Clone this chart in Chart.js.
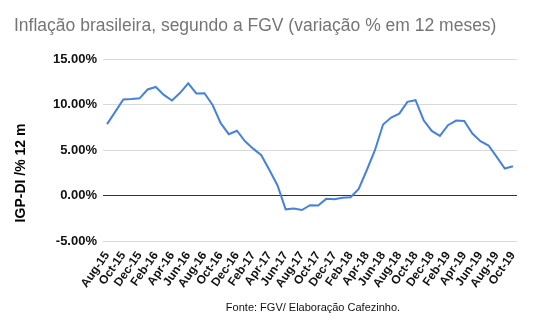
<!DOCTYPE html>
<html>
<head>
<meta charset="utf-8">
<script src="https://cdn.jsdelivr.net/npm/chart.js@4"></script>
<style>
  body { margin: 0; background: #fff; }
  .chart-container { position: relative; width: 534px; height: 327px; }
</style>
</head>
<body>
<div class="chart-container"><canvas id="igpChart" width="534" height="327"></canvas></div>
<script>
// IGP-DI, 12-month change, Aug-15 .. Oct-19
const months = [
    'Aug-15', 'Sep-15', 'Oct-15', 'Nov-15', 'Dec-15',
    'Jan-16', 'Feb-16', 'Mar-16', 'Apr-16', 'May-16', 'Jun-16', 'Jul-16', 'Aug-16', 'Sep-16', 'Oct-16', 'Nov-16', 'Dec-16',
    'Jan-17', 'Feb-17', 'Mar-17', 'Apr-17', 'May-17', 'Jun-17', 'Jul-17', 'Aug-17', 'Sep-17', 'Oct-17', 'Nov-17', 'Dec-17',
    'Jan-18', 'Feb-18', 'Mar-18', 'Apr-18', 'May-18', 'Jun-18', 'Jul-18', 'Aug-18', 'Sep-18', 'Oct-18', 'Nov-18', 'Dec-18',
    'Jan-19', 'Feb-19', 'Mar-19', 'Apr-19', 'May-19', 'Jun-19', 'Jul-19', 'Aug-19', 'Sep-19', 'Oct-19'
];
const igpDi = [
    7.84, 9.19, 10.55, 10.60, 10.68,
    11.65, 11.93, 11.05, 10.44, 11.28, 12.32, 11.21, 11.24, 9.94, 7.95, 6.74, 7.12,
    5.95, 5.15, 4.43, 2.80, 1.10, -1.52, -1.43, -1.60, -1.07, -1.10, -0.37, -0.42,
    -0.26, -0.19, 0.73, 2.80, 4.98, 7.80, 8.57, 9.00, 10.29, 10.47, 8.27, 7.10,
    6.55, 7.73, 8.24, 8.20, 6.81, 5.97, 5.49, 4.24, 2.96, 3.22
];
const yTicks = [-5, 0, 5, 10, 15];

const titleText = 'Inflação brasileira, segundo a FGV (variação % em 12 meses)';
const yTitleText = 'IGP-DI /% 12 m';
const sourceText = 'Fonte: FGV/ Elaboração Cafezinho.';

const FONT = '"Liberation Sans", Arial, sans-serif';

// title, rotated axis title and source note
const textPlugin = {
    id: 'chartText',
    afterDraw(chart) {
        const { ctx } = chart;
        ctx.save();
        ctx.fillStyle = '#757575';
        ctx.font = `17.5px ${FONT}`;
        ctx.textAlign = 'left';
        ctx.textBaseline = 'alphabetic';
        ctx.fillText(titleText, 14, 31);

        ctx.fillStyle = '#000';
        ctx.font = `bold 14px ${FONT}`;
        ctx.translate(21, 173);
        ctx.rotate(-Math.PI / 2);
        ctx.textAlign = 'center';
        ctx.textBaseline = 'middle';
        ctx.fillText(yTitleText, 0, 0);
        ctx.restore();

        ctx.save();
        ctx.fillStyle = '#111';
        ctx.font = `11px ${FONT}`;
        ctx.textAlign = 'center';
        ctx.textBaseline = 'alphabetic';
        ctx.fillText(sourceText, 313, 311);
        ctx.restore();
    }
};

document.addEventListener('DOMContentLoaded', () => {
    new Chart(document.getElementById('igpChart'), {
        type: 'line',
        data: {
            labels: months,
            datasets: [{
                data: igpDi,
                borderColor: '#4682dc',
                borderWidth: 2,
                pointRadius: 0,
                tension: 0,
                fill: false
            }]
        },
        options: {
            responsive: false,
            animation: false,
            layout: { padding: { top: 59, right: 17, left: 0, bottom: 0 } },
            scales: {
                x: {
                    offset: true,
                    grid: { display: false, drawTicks: false },
                    border: { display: false },
                    ticks: {
                        autoSkip: false,
                        minRotation: 55,
                        maxRotation: 55,
                        padding: 8,
                        color: '#111',
                        font: { family: FONT, size: 12, weight: 'bold' },
                        callback: (v, i) => (i % 2 === 0 ? months[i] : '')
                    },
                    afterFit: s => { s.height = 86; }
                },
                y: {
                    min: -5,
                    max: 15,
                    afterBuildTicks: s => { s.ticks = yTicks.map(v => ({ value: v })); },
                    grid: {
                        drawTicks: false,
                        color: ctx => (ctx.tick && ctx.tick.value === 0 ? '#333' : '#d9d9d9'),
                        lineWidth: 1
                    },
                    border: { display: false },
                    ticks: {
                        padding: 6,
                        color: '#111',
                        font: { family: FONT, size: 13, weight: 'bold' },
                        callback: v => v.toFixed(2) + '%'
                    },
                    afterFit: s => { s.width = 103; }
                }
            },
            plugins: {
                legend: { display: false },
                tooltip: { enabled: false }
            }
        },
        plugins: [textPlugin]
    });
});
</script>
</body>
</html>
